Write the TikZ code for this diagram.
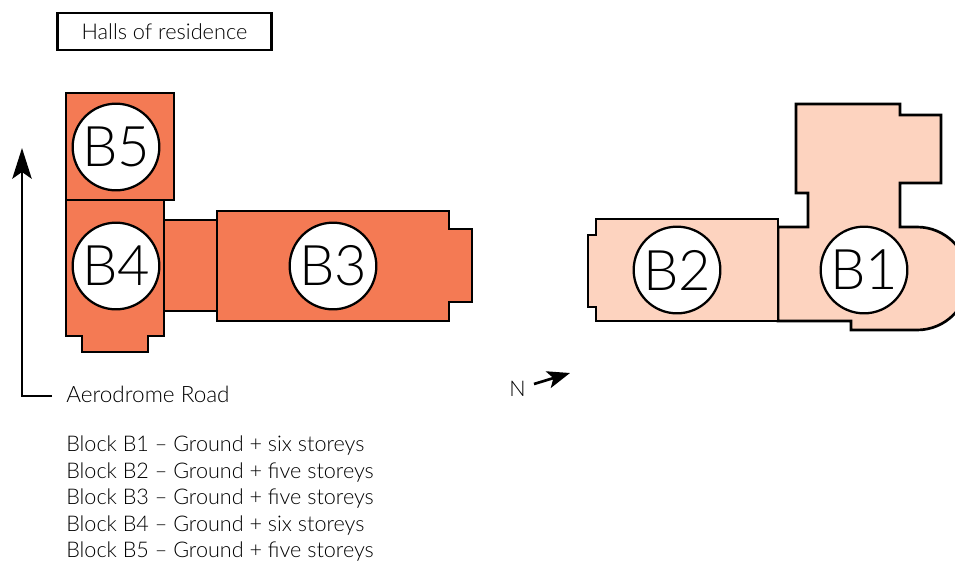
\documentclass[tikz,border=0pt]{standalone}
\usepackage{fontspec}
\setmainfont{Lato Light}
\usetikzlibrary{arrows.meta}
\definecolor{blockdark}{HTML}{F47A54}
\definecolor{blocklight}{HTML}{FDD3BF}
\tikzset{
  wing/.style={draw=black, line width=2pt, miter limit=10},
  tag/.style={circle, draw=black, fill=white, line width=1.7pt, minimum size=65pt, inner sep=0pt, font=\fontsize{42}{42}\selectfont},
  note/.style={anchor=base west, inner sep=0pt, font=\fontsize{16.2}{18}\selectfont},
  pointer/.style={line width=2pt, -{Stealth[length=23pt, width=14.5pt, inset=5pt]}}
}
\begin{document}
\begin{tikzpicture}[x=0.75pt, y=-0.75pt]
  \useasboundingbox (0,0) rectangle (955,561);
  %title
  \node[draw=black, line width=1.7pt, minimum width=160.5pt, minimum height=28pt, inner sep=0pt, font=\fontsize{16.3}{18}\selectfont] (title) at (164.5,31.5) {Halls of residence};
  %blocks on the left
  \draw[wing, fill=blockdark] (66,93) -- (174,93) -- (174,200) -- (66,200) -- cycle;
  \draw[wing, fill=blockdark] (66,200) -- (164,200) -- (164,336) -- (148,336) -- (148,352) -- (82,352) -- (82,336) -- (66,336) -- cycle;
  \draw[wing, fill=blockdark] (164,220) -- (217,220) -- (217,311) -- (164,311) -- cycle;
  \draw[wing, fill=blockdark] (217,211) -- (449,211) -- (449,229) -- (472,229) -- (472,302) -- (449,302) -- (449,321) -- (217,321) -- cycle;
  %blocks on the right
  \draw[wing, fill=blocklight] (778,227) -- (808,227) -- (808,193) -- (796,193) -- (796,104) -- (900,104) -- (900,115) -- (941,115) -- (941,183) -- (900,183) -- (900,227) -- (917,227) arc[start angle=-90, end angle=90, radius=51.5] -- (851,330) -- (851,321) -- (778,321) -- cycle;
  \draw[wing, fill=blocklight] (596,219) -- (778,219) -- (778,321) -- (596,321) -- (596,307) -- (588,307) -- (588,235) -- (596,235) -- cycle;
  %labels
  \node[tag] (b5) at (116,147) {B5};
  \node[tag] (b4) at (116,266) {B4};
  \node[tag] (b3) at (333,266) {B3};
  \node[tag] (b2) at (677,270) {B2};
  \node[tag] (b1) at (864,270) {B1};
  %road and north
  \coordinate (roadstart) at (52,396);
  \coordinate (roadend) at (22,148);
  \draw[pointer] (roadstart) -| (roadend);
  \node[note, font=\fontsize{16.9}{18}\selectfont] (road) at (66,402) {Aerodrome Road};
  \node[note] (north) at (509,396) {N};
  \coordinate (northstart) at (534,384);
  \coordinate (northend) at (570,373);
  \draw[line width=2pt, -{Stealth[length=17pt, width=13pt, inset=4pt]}] (northstart) -- (northend);
  %list of storeys
  \node[note] (list1) at (66,451) {Block B1 – Ground + six storeys};
  \node[note] (list2) at (66,478) {Block B2 – Ground + five storeys};
  \node[note] (list3) at (66,504) {Block B3 – Ground + five storeys};
  \node[note] (list4) at (66,531) {Block B4 – Ground + six storeys};
  \node[note] (list5) at (66,557) {Block B5 – Ground + five storeys};
\end{tikzpicture}
\end{document}
